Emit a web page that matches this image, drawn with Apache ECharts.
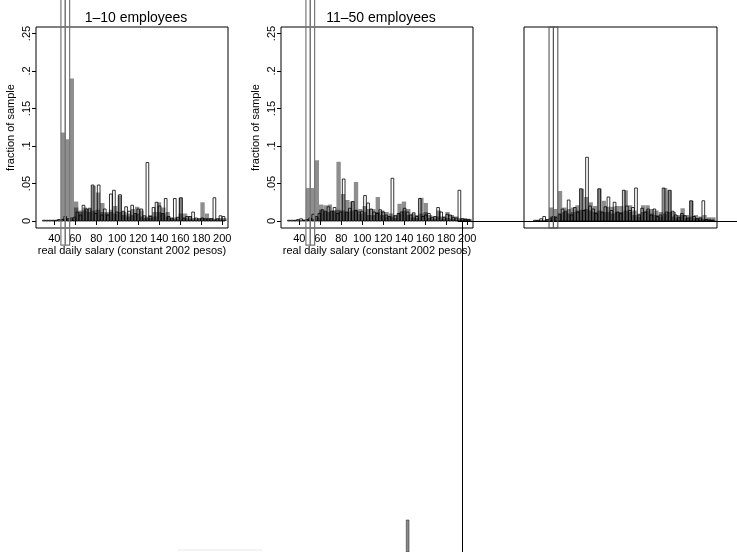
<!DOCTYPE html>
<html><head><meta charset="utf-8">
<script src="https://cdn.jsdelivr.net/npm/echarts@6/dist/echarts.min.js"></script>
<style>html,body{margin:0;padding:0;background:#fff}#c{width:737px;height:552px}</style>
</head><body><div id="c"></div>
<script>
// ---------- data ----------
const panelTitles = ['1–10 employees', '11–50 employees', ''];
const xAxisTitle = 'real daily salary (constant 2002 pesos)';
const yAxisTitle = 'fraction of sample';
const xTicks = [40, 60, 80, 100, 120, 140, 160, 180, 200];
const yTicks = [0, 0.05, 0.1, 0.15, 0.2, 0.25];
const yTickLabels = ['0', '.05', '.1', '.15', '.2', '.25'];

// bin definitions (salary units)
const grayBinStart = 29.7, grayBinWidth = 4.15;
const hollowBinStart = 28.8, hollowBinWidth = 2.9, hollowBarWidth = 2.55;

// panel 1 : 1-10 employees
const p1Gray = [0,0,0.001,0.002,0.118,0.109,0.19,0.026,0.014,0.018,0.016,0.047,0.038,0.024,0.012,0.015,0.020,0.034,0.012,0.010,0.016,0.019,0.014,0.006,0.008,0.012,0.025,0.018,0.012,0.004,0.005,0.031,0.010,0.006,0.004,0.003,0.025,0.010,0.004,0.003,0.004,0.004];
const p1Dark = [0,0,0,0,0.003,0.003,0.003,0.018,0.012,0.014,0.012,0.014,0.015,0.012,0.010,0.012,0.010,0.012,0.008,0.006,0.008,0.010,0.006,0.004,0.004,0.006,0.012,0.010,0.006,0.003,0.003,0.010,0.004,0.003,0.002,0.002,0.004,0.003,0.002,0.002,0.002,0.002];
const p1Hollow = [0.001,0.001,0.001,0.001,0.001,0.002,0.002,0.006,0.003,0.004,0.005,0.012,0.008,0.021,0.016,0.017,0.048,0.010,0.048,0.008,0.016,0.008,0.036,0.041,0.012,0.035,0.013,0.019,0.013,0.021,0.010,0.016,0.016,0.007,0.078,0.006,0.018,0.025,0.020,0.010,0.030,0.006,0.004,0.030,0.005,0.031,0.004,0.006,0.006,0.012,0.004,0.003,0.004,0.003,0.003,0.003,0.031,0.003,0.007,0.006];

// panel 2 : 11-50 employees
const p2Gray = [0,0.001,0.001,0.002,0.044,0.044,0.081,0.022,0.021,0.022,0.014,0.079,0.036,0.028,0.026,0.052,0.016,0.020,0.016,0.016,0.032,0.014,0.012,0.010,0.008,0.023,0.026,0.016,0.010,0.008,0.031,0.024,0.008,0.006,0.014,0.006,0.012,0.008,0.006,0.004,0.004,0.003];
const p2Dark = [0,0,0,0.001,0.002,0.003,0.005,0.015,0.012,0.012,0.014,0.015,0.014,0.012,0.014,0.015,0.010,0.012,0.008,0.008,0.012,0.008,0.006,0.006,0.004,0.010,0.014,0.008,0.005,0.004,0.010,0.012,0.004,0.003,0.006,0.003,0.004,0.003,0.002,0.002,0.002,0.002];
const p2Hollow = [0.001,0.001,0.001,0.002,0.003,0.001,0.002,0.004,0.009,0.006,0.010,0.015,0.013,0.019,0.013,0.018,0.010,0.012,0.056,0.012,0.017,0.026,0.014,0.012,0.013,0.034,0.024,0.016,0.012,0.010,0.015,0.012,0.008,0.006,0.057,0.007,0.010,0.012,0.017,0.012,0.008,0.011,0.006,0.030,0.006,0.008,0.010,0.005,0.006,0.018,0.012,0.005,0.009,0.008,0.005,0.004,0.041,0.003,0.002,0.002];

// panel 3 : untitled
const p3Gray = [0,0.001,0.001,0.002,0.018,0.016,0.040,0.018,0.016,0.018,0.021,0.043,0.032,0.025,0.020,0.043,0.027,0.019,0.019,0.020,0.020,0.041,0.021,0.014,0.010,0.021,0.021,0.016,0.014,0.012,0.044,0.041,0.012,0.008,0.017,0.008,0.027,0.008,0.006,0.008,0.005,0.005];
const p3Dark = [0,0,0,0.001,0.006,0.006,0.010,0.012,0.010,0.012,0.014,0.015,0.016,0.014,0.012,0.014,0.012,0.012,0.010,0.012,0.012,0.014,0.012,0.008,0.006,0.012,0.014,0.010,0.008,0.006,0.010,0.012,0.006,0.004,0.008,0.004,0.006,0.004,0.003,0.003,0.003,0.002];
const p3Hollow = [0,0.001,0.001,0.003,0.006,0.002,0.003,0.006,0.005,0.009,0.016,0.013,0.028,0.008,0.018,0.012,0.043,0.014,0.085,0.020,0.016,0.010,0.043,0.012,0.019,0.032,0.014,0.025,0.012,0.010,0.041,0.020,0.014,0.018,0.044,0.008,0.017,0.012,0.016,0.008,0.016,0.006,0.008,0.044,0.012,0.041,0.013,0.008,0.005,0.010,0.007,0.004,0.027,0.006,0.003,0.004,0.027,0.002,0.001,0.001];

// off-scale bins (drawn as tall outlines)
const spikeBins = [4, 5];
const spikeRangeOpen = [-0.032, 0.30];
const spikeRangeFramed = [-0.0093, 0.2587];

// stray bar below panel 2
const strayBin = 39;
const strayValue = 1;

// ---------- layout ----------
const X_MIN = 22.57, X_MAX = 205.43, Y_MIN = -0.0093, Y_MAX = 0.2587;
const FONT = 'Liberation Sans, Arial, Helvetica, sans-serif';
const panels = [
  {gray: p1Gray, dark: p1Dark, hollow: p1Hollow, spike: spikeRangeOpen, left: 36, axes: true},
  {gray: p2Gray, dark: p2Dark, hollow: p2Hollow, spike: spikeRangeOpen, left: 281, axes: true},
  {gray: p3Gray, dark: p3Dark, hollow: p3Hollow, spike: spikeRangeFramed, left: 524, axes: false}
];

const styles = {
  gray: {fill: '#8e8e8e'},
  dark: {fill: 'rgba(0,0,0,0.45)'},
  hollow: {fill: 'rgba(0,0,0,0)', stroke: '#000', lineWidth: 0.8},
  spike: {fill: 'rgba(0,0,0,0)', stroke: '#777', lineWidth: 1.2},
  spike3: {fill: 'rgba(0,0,0,0)', stroke: '#555', lineWidth: 1.1},
  stray: {fill: '#8a8a8a', stroke: '#333', lineWidth: 0.6}
};

function renderer(style) {
  return function (params, api) {
    const a = api.coord([api.value(0), api.value(2)]);
    const b = api.coord([api.value(1), api.value(3)]);
    return {type: 'rect', shape: {x: a[0], y: b[1], width: b[0] - a[0], height: a[1] - b[1]}, style: style};
  };
}
function grayData(vals) {
  const d = [];
  vals.forEach((v, i) => { if (v > 0) d.push([grayBinStart + i * grayBinWidth, grayBinStart + (i + 1) * grayBinWidth, 0, v]); });
  return d;
}
function hollowData(vals) {
  const d = [];
  vals.forEach((v, i) => { if (v > 0) { const s = hollowBinStart + i * hollowBinWidth; d.push([s, s + hollowBarWidth, 0, v]); } });
  return d;
}
function spikeData(range) {
  return spikeBins.map(i => [grayBinStart + i * grayBinWidth, grayBinStart + (i + 1) * grayBinWidth, range[0], range[1]]);
}

const grids = [], xAxes = [], yAxes = [], series = [], titles = [];
panels.forEach((p, gi) => {
  grids.push({left: p.left, top: 27, width: gi === 2 ? 193 : 192, height: 201, show: true, borderColor: '#000', borderWidth: 1, backgroundColor: 'transparent'});
  xAxes.push({
    gridIndex: gi, type: 'value', min: X_MIN, max: X_MAX,
    name: p.axes ? xAxisTitle : '', nameLocation: 'middle', nameGap: 17,
    nameTextStyle: {fontFamily: FONT, fontSize: 11, color: '#000'},
    axisLine: {show: false}, splitLine: {show: false},
    axisTick: {show: p.axes, customValues: xTicks, length: 4, lineStyle: {color: '#000'}},
    axisLabel: {show: p.axes, customValues: xTicks, margin: 5, fontFamily: FONT, fontSize: 11, color: '#000'}
  });
  yAxes.push({
    gridIndex: gi, type: 'value', min: Y_MIN, max: Y_MAX,
    name: p.axes ? yAxisTitle : '', nameLocation: 'middle', nameGap: 20, nameRotate: 90,
    nameTextStyle: {fontFamily: FONT, fontSize: 11, color: '#000'},
    axisLine: {show: false}, splitLine: {show: false},
    axisTick: {show: p.axes, customValues: yTicks, length: 4, lineStyle: {color: '#000'}},
    axisLabel: {show: p.axes, customValues: yTicks, rotate: 90, margin: 4, fontFamily: FONT, fontSize: 11, color: '#000',
      formatter: v => { const i = yTicks.findIndex(t => Math.abs(t - v) < 1e-9); return i >= 0 ? yTickLabels[i] : ''; }}
  });
  if (panelTitles[gi]) titles.push({text: panelTitles[gi], left: p.left + 95, top: 6, textAlign: 'center',
    textStyle: {fontFamily: FONT, fontSize: 14, fontWeight: 'normal', color: '#000'}});
  const common = {type: 'custom', xAxisIndex: gi, yAxisIndex: gi, clip: false, silent: true, animation: false,
    encode: {x: [0, 1], y: [2, 3]}};
  series.push(Object.assign({}, common, {renderItem: renderer(styles.gray), data: grayData(p.gray)}));
  series.push(Object.assign({}, common, {renderItem: renderer(styles.dark), data: grayData(p.dark)}));
  series.push(Object.assign({}, common, {renderItem: renderer(styles.hollow), data: hollowData(p.hollow)}));
  series.push(Object.assign({}, common, {renderItem: renderer(gi === 2 ? styles.spike3 : styles.spike), data: spikeData(p.spike)}));
});

// stray axis lines (right/bottom)
grids.push({left: 458, top: 221, right: 0, bottom: 0, show: false});
xAxes.push({gridIndex: 3, type: 'value', min: 0, max: 1, position: 'top',
  axisLine: {show: true, onZero: false, lineStyle: {color: '#000', width: 1}}, axisTick: {show: false}, axisLabel: {show: false}, splitLine: {show: false}});
yAxes.push({gridIndex: 3, type: 'value', min: 0, max: 1, position: 'left', offset: -4,
  axisLine: {show: true, onZero: false, lineStyle: {color: '#000', width: 1}}, axisTick: {show: false}, axisLabel: {show: false}, splitLine: {show: false}});

// stray bar below panel 2
grids.push({left: 281, top: 520, width: 192, height: 32, show: false});
xAxes.push({gridIndex: 4, type: 'value', min: X_MIN, max: X_MAX, show: false});
yAxes.push({gridIndex: 4, type: 'value', min: 0, max: 1, show: false});
series.push({type: 'custom', xAxisIndex: 4, yAxisIndex: 4, clip: false, silent: true, animation: false,
  encode: {x: [0, 1], y: [2, 3]}, renderItem: renderer(styles.stray),
  data: [[hollowBinStart + strayBin * hollowBinWidth, hollowBinStart + strayBin * hollowBinWidth + hollowBarWidth, 0, strayValue]]});

const chart = echarts.init(document.getElementById('c'), null, {renderer: 'canvas'});
chart.setOption({
  animation: false,
  backgroundColor: '#fff',
  title: titles,
  grid: grids, xAxis: xAxes, yAxis: yAxes, series: series,
  graphic: [{type: 'line', shape: {x1: 178, y1: 550, x2: 262, y2: 550}, style: {stroke: '#e8e8e8', lineWidth: 1}, silent: true}]
});
</script></body></html>
